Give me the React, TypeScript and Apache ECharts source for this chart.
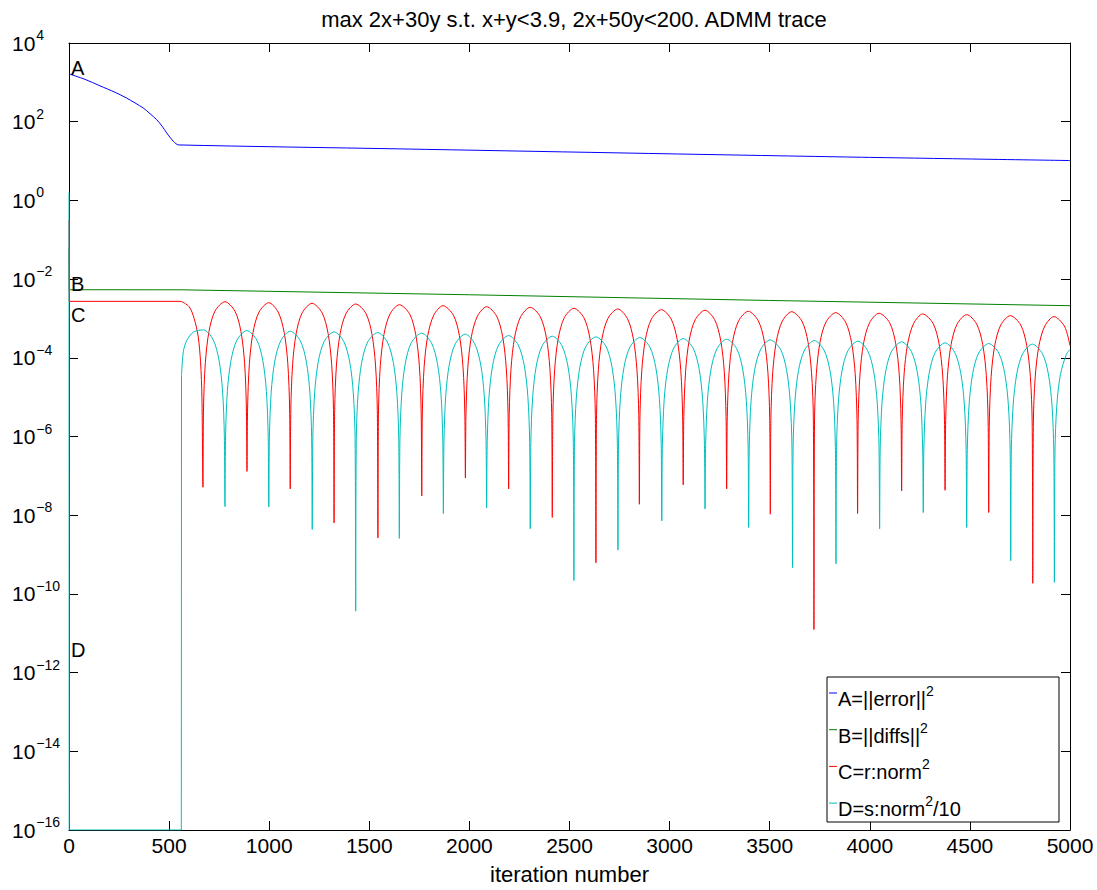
import React, { useEffect, useRef } from 'react';
import * as echarts from 'echarts';

const FONT = "'Liberation Sans', Arial, Helvetica, sans-serif";
const TITLE = 'max 2x+30y s.t. x+y<3.9, 2x+50y<200. ADMM trace';
const X_LABEL = 'iteration number';
const X_MIN = 0;
const X_MAX = 5000;
const X_STEP = 500;
// y axis is drawn in decades (exponent of ten)
const Y_MIN_EXP = -16;
const Y_MAX_EXP = 4;
const Y_STEP_EXP = 2;

// Every series: [iteration, log10(value)]
const errorA = [
  [0, 3.215], [80, 3.076], [155, 2.911], [230, 2.747], [288, 2.6], [371, 2.347], [405, 2.203],
  [438, 2.051], [465, 1.886], [488, 1.714], [504, 1.608], [521, 1.501], [534, 1.443], [546, 1.41],
  [1653, 1.309], [3851, 1.106], [5000, 1.013],
];

const diffsB = [
  [0, -1.2], [1, -2.27], [560, -2.272], [2000, -2.398], [3500, -2.543], [5000, -2.676],
];

const rNormStart = [[0, -0.5], [1, -2.565], [560, -2.565]];
const rNormC = [
  [560, -2.565], [600, -2.7], [625, -3.0], [645, -3.45], [657, -4.1], [664, -5.0], [669, -7.29],
  [672, -5.275], [681, -4.125], [699, -3.335], [729, -2.815], [779, -2.575], [829, -2.815], [859, -3.335], [877, -4.125], [886, -5.275], [889, -6.886],
  [892, -5.3], [901, -4.15], [919, -3.36], [949, -2.84], [998, -2.6], [1045, -2.84], [1075, -3.36], [1093, -4.15], [1102, -5.3], [1105, -7.334],
  [1108, -5.315], [1117, -4.165], [1135, -3.375], [1165, -2.855], [1214, -2.615], [1264, -2.855], [1294, -3.375], [1312, -4.165], [1321, -5.315], [1324, -8.195],
  [1327, -5.333], [1336, -4.183], [1354, -3.393], [1384, -2.873], [1432, -2.633], [1483, -2.873], [1513, -3.393], [1531, -4.183], [1540, -5.333], [1543, -8.575],
  [1546, -5.351], [1555, -4.201], [1573, -3.411], [1603, -2.891], [1650, -2.651], [1702, -2.891], [1732, -3.411], [1750, -4.201], [1759, -5.351], [1762, -7.511],
  [1765, -5.376], [1774, -4.226], [1792, -3.436], [1822, -2.916], [1868, -2.676], [1920, -2.916], [1950, -3.436], [1968, -4.226], [1977, -5.376], [1980, -7.056],
  [1983, -5.401], [1992, -4.251], [2010, -3.461], [2040, -2.941], [2086, -2.701], [2136, -2.941], [2166, -3.461], [2184, -4.251], [2193, -5.401], [2196, -7.334],
  [2199, -5.416], [2208, -4.266], [2226, -3.476], [2256, -2.956], [2304, -2.716], [2354, -2.956], [2384, -3.476], [2402, -4.266], [2411, -5.416], [2414, -8.058],
  [2417, -5.442], [2426, -4.292], [2444, -3.502], [2474, -2.982], [2522, -2.742], [2572, -2.982], [2602, -3.502], [2620, -4.292], [2629, -5.442], [2632, -9.208],
  [2635, -5.459], [2644, -4.309], [2662, -3.519], [2692, -2.999], [2741, -2.759], [2789, -2.999], [2819, -3.519], [2837, -4.309], [2846, -5.459], [2849, -7.722],
  [2852, -5.477], [2861, -4.327], [2879, -3.537], [2909, -3.017], [2959, -2.777], [3008, -3.017], [3038, -3.537], [3056, -4.327], [3065, -5.477], [3068, -7.228],
  [3071, -5.492], [3080, -4.342], [3098, -3.552], [3128, -3.032], [3177, -2.792], [3225, -3.032], [3255, -3.552], [3273, -4.342], [3282, -5.492], [3285, -7.334],
  [3288, -5.518], [3297, -4.368], [3315, -3.578], [3345, -3.058], [3393, -2.818], [3443, -3.058], [3473, -3.578], [3491, -4.368], [3500, -5.518], [3503, -7.975],
  [3506, -5.528], [3515, -4.378], [3533, -3.588], [3563, -3.068], [3610, -2.828], [3661, -3.068], [3691, -3.588], [3709, -4.378], [3718, -5.528], [3721, -10.904],
  [3724, -5.553], [3733, -4.403], [3751, -3.613], [3781, -3.093], [3830, -2.853], [3879, -3.093], [3909, -3.613], [3927, -4.403], [3936, -5.553], [3939, -7.957],
  [3942, -5.568], [3951, -4.418], [3969, -3.628], [3999, -3.108], [4046, -2.868], [4099, -3.108], [4129, -3.628], [4147, -4.418], [4156, -5.568], [4159, -7.385],
  [4162, -5.586], [4171, -4.436], [4189, -3.646], [4219, -3.126], [4264, -2.886], [4316, -3.126], [4346, -3.646], [4364, -4.436], [4373, -5.586], [4376, -7.367],
  [4379, -5.604], [4388, -4.454], [4406, -3.664], [4436, -3.144], [4484, -2.904], [4534, -3.144], [4564, -3.664], [4582, -4.454], [4591, -5.604], [4594, -7.932],
  [4597, -5.629], [4606, -4.479], [4624, -3.689], [4654, -3.169], [4702, -2.929], [4754, -3.169], [4784, -3.689], [4802, -4.479], [4811, -5.629], [4814, -9.729],
  [4817, -5.654], [4826, -4.504], [4844, -3.714], [4874, -3.194], [4920, -2.954], [4972, -3.194], [5000, -3.69],
];

const sNormStart = [[0, 0.2], [1, -16], [561, -16], [562, -4.448]];
const sNormD = [
  [562, -4.448], [571, -3.848], [588, -3.562], [621, -3.349], [671, -3.291], [719, -3.531], [749, -4.051], [767, -4.841], [776, -5.991], [779, -7.78],
  [782, -6.009], [791, -4.859], [809, -4.069], [839, -3.549], [888, -3.309], [938, -3.549], [968, -4.069], [986, -4.859], [995, -6.009], [998, -7.79],
  [1001, -6.024], [1010, -4.874], [1028, -4.084], [1058, -3.564], [1105, -3.324], [1155, -3.564], [1185, -4.084], [1203, -4.874], [1212, -6.024], [1215, -8.362],
  [1218, -6.042], [1227, -4.892], [1245, -4.102], [1275, -3.582], [1324, -3.342], [1372, -3.582], [1402, -4.102], [1420, -4.892], [1429, -6.042], [1432, -10.438],
  [1435, -6.059], [1444, -4.909], [1462, -4.119], [1492, -3.599], [1542, -3.359], [1590, -3.599], [1620, -4.119], [1638, -4.909], [1647, -6.059], [1650, -8.59],
  [1653, -6.075], [1662, -4.925], [1680, -4.135], [1710, -3.615], [1762, -3.375], [1810, -3.615], [1840, -4.135], [1858, -4.925], [1867, -6.075], [1870, -7.957],
  [1873, -6.1], [1882, -4.95], [1900, -4.16], [1930, -3.64], [1980, -3.4], [2026, -3.64], [2056, -4.16], [2074, -4.95], [2083, -6.1], [2086, -7.815],
  [2089, -6.135], [2098, -4.985], [2116, -4.195], [2146, -3.675], [2196, -3.435], [2244, -3.675], [2274, -4.195], [2292, -4.985], [2301, -6.135], [2304, -8.342],
  [2307, -6.151], [2316, -5.001], [2334, -4.211], [2364, -3.691], [2414, -3.451], [2462, -3.691], [2492, -4.211], [2510, -5.001], [2519, -6.151], [2522, -9.663],
  [2525, -6.168], [2534, -5.018], [2552, -4.228], [2582, -3.708], [2632, -3.468], [2682, -3.708], [2712, -4.228], [2730, -5.018], [2739, -6.168], [2742, -8.886],
  [2745, -6.186], [2754, -5.036], [2772, -4.246], [2802, -3.726], [2851, -3.486], [2901, -3.726], [2931, -4.246], [2949, -5.036], [2958, -6.186], [2961, -8.144],
  [2964, -6.211], [2973, -5.061], [2991, -4.271], [3021, -3.751], [3068, -3.511], [3117, -3.751], [3147, -4.271], [3165, -5.061], [3174, -6.211], [3177, -7.843],
  [3180, -6.227], [3189, -5.077], [3207, -4.287], [3237, -3.767], [3285, -3.527], [3335, -3.767], [3365, -4.287], [3383, -5.077], [3392, -6.227], [3395, -8.311],
  [3398, -6.244], [3407, -5.094], [3425, -4.304], [3455, -3.784], [3502, -3.544], [3554, -3.784], [3584, -4.304], [3602, -5.094], [3611, -6.244], [3614, -9.334],
  [3617, -6.262], [3626, -5.112], [3644, -4.322], [3674, -3.802], [3723, -3.562], [3771, -3.802], [3801, -4.322], [3819, -5.112], [3828, -6.262], [3831, -9.233],
  [3834, -6.277], [3843, -5.127], [3861, -4.337], [3891, -3.817], [3941, -3.577], [3989, -3.817], [4019, -4.337], [4037, -5.127], [4046, -6.277], [4049, -8.347],
  [4052, -6.295], [4061, -5.145], [4079, -4.355], [4109, -3.835], [4159, -3.595], [4207, -3.835], [4237, -4.355], [4255, -5.145], [4264, -6.295], [4267, -7.932],
  [4270, -6.32], [4279, -5.17], [4297, -4.38], [4327, -3.86], [4376, -3.62], [4424, -3.86], [4454, -4.38], [4472, -5.17], [4481, -6.32], [4484, -8.311],
  [4487, -6.338], [4496, -5.188], [4514, -4.398], [4544, -3.878], [4594, -3.638], [4644, -3.878], [4674, -4.398], [4692, -5.188], [4701, -6.338], [4704, -9.157],
  [4707, -6.353], [4716, -5.203], [4734, -4.413], [4764, -3.893], [4812, -3.653], [4862, -3.893], [4892, -4.413], [4910, -5.203], [4919, -6.353], [4922, -9.704],
  [4925, -6.37], [4934, -5.22], [4952, -4.43], [4982, -3.91], [5000, -3.79],
];

const SERIES_COLORS = { A: '#0000ff', B: '#008000', C: '#ff0000', D: '#00bfbf' };

const LEGEND_ITEMS = [
  { key: 'A', main: 'A=||error||', sup: '2', tail: '' },
  { key: 'B', main: 'B=||diffs||', sup: '2', tail: '' },
  { key: 'C', main: 'C=r:norm', sup: '2', tail: '' },
  { key: 'D', main: 'D=s:norm', sup: '2', tail: '/10' },
];

const CURVE_TAGS = [
  { text: 'A', x: 71, y: 68 },
  { text: 'B', x: 71, y: 284 },
  { text: 'C', x: 71, y: 315 },
  { text: 'D', x: 71, y: 650 },
];

function lineSeries(name: string, data: number[][], color: string, smooth: number | boolean) {
  return {
    type: 'line',
    name,
    data,
    symbol: 'none',
    showSymbol: false,
    smooth,
    silent: true,
    clip: true,
    lineStyle: { color, width: 1 },
    itemStyle: { color },
    emphasis: { disabled: true },
  };
}

export default function App() {
  const ref = useRef<HTMLDivElement>(null);

  useEffect(() => {
    document.body.style.margin = '0';
    if (!ref.current) return;
    const chart = echarts.init(ref.current, undefined, { renderer: 'svg' });

    const axisLine = { show: true, onZero: false, lineStyle: { color: '#000', width: 1 } };
    const axisTick = { show: true, inside: true, length: 9, lineStyle: { color: '#000', width: 1 } };

    const legendX = 827;
    const legendY = 677;
    const legendRowGap = 36.7;
    const legendGraphics: any[] = [
      {
        type: 'rect',
        z: 100,
        shape: { x: legendX, y: legendY, width: 232, height: 145 },
        style: { fill: '#fff', stroke: '#000', lineWidth: 1 },
      },
    ];
    LEGEND_ITEMS.forEach((it, i) => {
      const ly = legendY + 16 + i * legendRowGap;
      legendGraphics.push({
        type: 'line',
        z: 101,
        shape: { x1: legendX + 2, y1: ly, x2: legendX + 10, y2: ly },
        style: { stroke: (SERIES_COLORS as any)[it.key], lineWidth: 1 },
      });
      legendGraphics.push({
        type: 'text',
        z: 101,
        x: legendX + 11,
        y: ly + 6,
        style: {
          text: `{m|${it.main}}{s|${it.sup}}` + (it.tail ? `{m|${it.tail}}` : ''),
          align: 'left',
          verticalAlign: 'middle',
          fill: '#000',
          rich: {
            m: { fontSize: 20, lineHeight: 30, fontFamily: FONT, fill: '#000', color: '#000' },
            s: { fontSize: 14, lineHeight: 12, verticalAlign: 'top', fontFamily: FONT, fill: '#000', color: '#000' },
          },
        },
      });
    });

    const tagGraphics = CURVE_TAGS.map((t) => ({
      type: 'text',
      z: 50,
      x: t.x,
      y: t.y,
      style: { text: t.text, fontSize: 20, fontFamily: FONT, fill: '#000', align: 'left', verticalAlign: 'middle' },
    }));

    const yLabelFormatter = (v: number) => {
      const e = Math.round(v);
      const s = e < 0 ? '\u2212' + String(-e) : String(e);
      return `{b|10}{s|${s}}`;
    };

    const option: any = {
      animation: false,
      backgroundColor: '#ffffff',
      grid: { left: 69, right: 27, top: 43, bottom: 57, containLabel: false },
      xAxis: [
        {
          type: 'value',
          min: X_MIN,
          max: X_MAX,
          interval: X_STEP,
          position: 'bottom',
          name: X_LABEL,
          nameLocation: 'middle',
          nameGap: 33,
          nameTextStyle: { fontSize: 22, color: '#000', fontFamily: FONT },
          axisLine,
          axisTick,
          axisLabel: {
            fontSize: 21,
            color: '#000',
            fontFamily: FONT,
            margin: 5,
            showMinLabel: true,
            showMaxLabel: true,
            formatter: (v: number) => String(v),
          },
          splitLine: { show: false },
        },
        {
          type: 'value',
          min: X_MIN,
          max: X_MAX,
          interval: X_STEP,
          position: 'top',
          axisLine,
          axisTick,
          axisLabel: { show: false },
          splitLine: { show: false },
        },
      ],
      yAxis: [
        {
          type: 'value',
          min: Y_MIN_EXP,
          max: Y_MAX_EXP,
          interval: Y_STEP_EXP,
          position: 'left',
          axisLine,
          axisTick,
          axisLabel: {
            formatter: yLabelFormatter,
            align: 'left',
            margin: 57,
            showMinLabel: true,
            showMaxLabel: true,
            rich: {
              b: { fontSize: 21, lineHeight: 30, fontFamily: FONT, color: '#000' },
              s: { fontSize: 14, lineHeight: 12, verticalAlign: 'top', fontFamily: FONT, color: '#000', padding: [0, 0, 0, 1] },
            },
          },
          splitLine: { show: false },
        },
        {
          type: 'value',
          min: Y_MIN_EXP,
          max: Y_MAX_EXP,
          interval: Y_STEP_EXP,
          position: 'right',
          axisLine,
          axisTick,
          axisLabel: { show: false },
          splitLine: { show: false },
        },
      ],
      series: [
        lineSeries('A', errorA, SERIES_COLORS.A, 0.3),
        lineSeries('B', diffsB, SERIES_COLORS.B, false),
        lineSeries('C0', rNormStart, SERIES_COLORS.C, false),
        lineSeries('C', rNormC, SERIES_COLORS.C, 0.3),
        lineSeries('D0', sNormStart, SERIES_COLORS.D, false),
        lineSeries('D', sNormD, SERIES_COLORS.D, 0.3),
      ],
      graphic: [
        {
          type: 'text',
          x: 574,
          y: 19,
          style: { text: TITLE, fontSize: 22, fontFamily: FONT, fill: '#000', align: 'center', verticalAlign: 'middle' },
        },
        ...tagGraphics,
        ...legendGraphics,
      ],
    };

    chart.setOption(option);
    return () => {
      chart.dispose();
    };
  }, []);

  return (
    <div
      ref={ref}
      style={{ position: 'absolute', left: 0, top: 0, width: 1097, height: 890, background: '#fff' }}
    />
  );
}
